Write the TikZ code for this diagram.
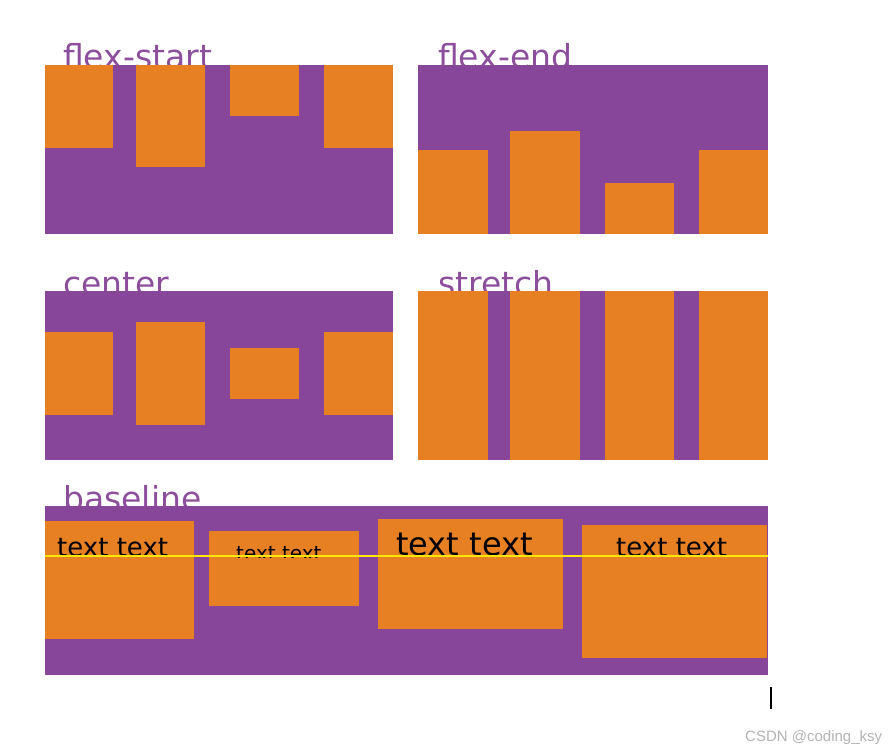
\documentclass[tikz,border=0pt]{standalone}
\usepackage{fontspec}
\setmainfont{DejaVu Sans}
\newfontfamily\markfont{Liberation Sans}

\definecolor{Cflexpurple}{HTML}{87469A}
\definecolor{Cflexorange}{HTML}{E68023}
\definecolor{Clabelpurple}{HTML}{8D4E9D}
\definecolor{Cbaseyellow}{HTML}{FFE600}
\definecolor{Cmarkgray}{HTML}{B4B4B4}

\tikzset{
	panel/.style={fill=Cflexpurple},
	item/.style={fill=Cflexorange},
	title/.style={anchor=base west,inner sep=0pt,text=Clabelpurple,font=\fontsize{33}{33}\selectfont},
	itemtext/.style={anchor=base west,inner sep=0pt,text=black},
}

\begin{document}
\begin{tikzpicture}[x=1pt,y=-1pt]
		\useasboundingbox[fill=white] (0,0) rectangle (894,749);
		% titles sit partly under the panels
		\node[title] (startlabel) at (63,69) {flex-start};
		\node[title] (endlabel) at (438,69) {flex-end};
		\node[title] (centerlabel) at (63,295) {center};
		\node[title] (stretchlabel) at (438,295) {stretch};
		\node[title] (baselabel) at (63,510) {baseline};

		% flex-start
		\fill[panel] (45,65) rectangle (393,234);
		\fill[item] (45,65) rectangle (113,148);
		\fill[item] (136,65) rectangle (205,167);
		\fill[item] (230,65) rectangle (299,116);
		\fill[item] (324,65) rectangle (393,148);

		% flex-end
		\fill[panel] (418,65) rectangle (768,234);
		\fill[item] (418,150) rectangle (488,234);
		\fill[item] (510,131) rectangle (580,234);
		\fill[item] (605,183) rectangle (674,234);
		\fill[item] (699,150) rectangle (768,234);

		% center
		\fill[panel] (45,291) rectangle (393,460);
		\fill[item] (45,332) rectangle (113,415);
		\fill[item] (136,322) rectangle (205,425);
		\fill[item] (230,348) rectangle (299,399);
		\fill[item] (324,332) rectangle (393,415);

		% stretch
		\fill[panel] (418,291) rectangle (768,460);
		\fill[item] (418,291) rectangle (488,460);
		\fill[item] (510,291) rectangle (580,460);
		\fill[item] (605,291) rectangle (674,460);
		\fill[item] (699,291) rectangle (768,460);

		% baseline
		\fill[panel] (45,506) rectangle (768,675);
		\fill[item] (45,521) rectangle (194,639);
		\fill[item] (209,531) rectangle (359,606);
		\fill[item] (378,519) rectangle (563,629);
		\fill[item] (582,525) rectangle (767,658);
		\node[itemtext,font=\fontsize{26}{26}\selectfont] (textone) at (57,556) {text text};
		\begin{scope}
			\clip (209,531) rectangle (359,557);
			\node[itemtext,font=\fontsize{20}{20}\selectfont] (texttwo) at (236,560) {text text};
		\end{scope}
		\node[itemtext,font=\fontsize{32}{32}\selectfont] (textthree) at (396,555) {text text};
		\node[itemtext,font=\fontsize{26}{26}\selectfont] (textfour) at (616,556) {text text};
		\coordinate (lineleft) at (45,556);
		\coordinate (lineright) at (768,556);
		\draw[line width=2pt,Cbaseyellow] (lineleft) -- (lineright);

		% caret and watermark
		\coordinate (carettop) at (771,687);
		\coordinate (caretbot) at (771,709);
		\draw[line width=2pt] (carettop) -- (caretbot);
		\node[anchor=base west,inner sep=0pt,text=Cmarkgray,font=\markfont\fontsize{15}{15}\selectfont] (watermark) at (745,741) {CSDN @coding\_ksy};
	\end{tikzpicture}
\end{document}
